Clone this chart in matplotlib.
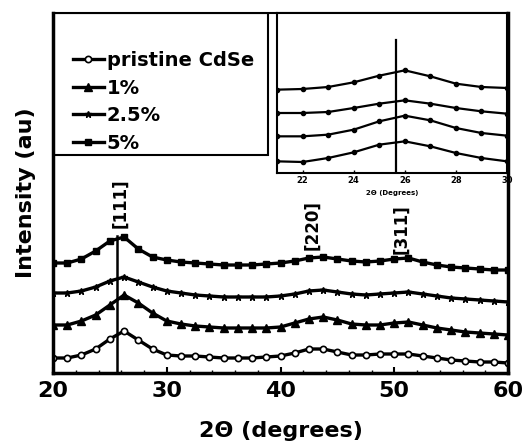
import numpy as np
import matplotlib
matplotlib.use("Agg")
import matplotlib.pyplot as plt
from matplotlib.patches import Rectangle
from matplotlib.lines import Line2D

plt.rcParams['font.family'] = ['DejaVu Sans']
plt.rcParams['font.weight'] = 'bold'

# ---------------- data (main panel) ----------------
two_theta = np.arange(20.0, 60.01, 1.25)
pristine = [15, 15, 18, 24, 34, 42, 33, 24, 18, 17, 17, 16, 15, 15, 15, 16, 17,
            20, 24, 24, 21, 18, 18, 19, 19, 19, 17, 15, 13, 12, 11, 11, 10]
dop_1 = [48, 48, 52, 58, 68, 78, 70, 60, 52, 49, 47, 46, 45, 45, 45, 45, 46,
         50, 54, 56, 53, 49, 48, 48, 50, 51, 48, 45, 43, 41, 40, 39, 38]
dop_25 = [80, 80, 82, 86, 92, 96, 91, 86, 82, 80, 78, 77, 76, 76, 76, 76, 77,
          79, 82, 83, 81, 79, 78, 79, 80, 81, 79, 77, 75, 74, 73, 72, 71]
dop_5 = [110, 110, 114, 122, 132, 136, 124, 116, 113, 111, 110, 109, 108, 108, 108, 109, 110,
         112, 115, 116, 114, 112, 111, 112, 114, 115, 111, 108, 106, 105, 104, 103, 103]

labels = ["pristine CdSe", "1%", "2.5%", "5%"]
peak_labels = ["[111]", "[220]", "[311]"]
peak_pos = [25.9, 42.8, 50.6]
peak_text_y = [170, 148, 144]
ref_line_x = 25.6

# ---------------- data (inset) ----------------
inset_x = [21, 22, 23, 24, 25, 26, 27, 28, 29, 30]
in_pristine = [35, 33, 45, 62, 85, 95, 80, 60, 45, 35]
in_1 = [110, 110, 115, 130, 155, 172, 158, 135, 120, 112]
in_25 = [180, 180, 183, 195, 208, 218, 208, 195, 185, 178]
in_5 = [250, 252, 258, 272, 292, 308, 290, 268, 258, 255]
inset_ticks = [22, 24, 26, 28, 30]

W, H = 523, 446
fig = plt.figure(figsize=(W / 100, H / 100), dpi=100)
ax = fig.add_axes([53 / W, 1 - 373 / H, 455 / W, 360 / H])

series = [pristine, dop_1, dop_25, dop_5]
styles = [
    dict(marker='o', markersize=4.5, markerfacecolor='white', markeredgecolor='black', markeredgewidth=1.2),
    dict(marker='^', markersize=5.5, markerfacecolor='black', markeredgecolor='black'),
    dict(marker='*', markersize=5, markerfacecolor='black', markeredgecolor='black'),
    dict(marker='s', markersize=5, markerfacecolor='black', markeredgecolor='black'),
]
for ys, st in zip(series, styles):
    ax.plot(two_theta, ys, color='black', lw=2.4, clip_on=True, **st)

ax.plot([ref_line_x, ref_line_x], [0, 137], color='black', lw=1.8)

for lab, px, py in zip(peak_labels, peak_pos, peak_text_y):
    ax.text(px, py, lab, rotation=90, ha='center', va='center', fontsize=12, fontweight='bold')

ax.set_xlim(20, 60)
ax.set_ylim(0, 360)
ax.set_xticks([20, 30, 40, 50, 60])
ax.set_xticks(np.arange(20, 61, 2), minor=True)
ax.set_yticks([])
ax.tick_params(axis='x', which='major', direction='in', length=4, width=1.5,
               labelsize=16, pad=6)
ax.tick_params(axis='x', which='minor', direction='in', length=2.5, width=1)
for lbl in ax.get_xticklabels():
    lbl.set_fontweight('bold')
for sp in ax.spines.values():
    sp.set_linewidth(2.5)
ax.spines['top'].set_linewidth(1.5)

ax.set_xlabel("2Θ (degrees)", fontsize=16, fontweight='bold', labelpad=14)
ax.set_ylabel("Intensity (au)", fontsize=16, fontweight='bold', labelpad=12)

# legend box
bx0 = 0.0
by0 = (373 - 155) / 360
bw = (268 - 53) / 455
bh = 1 - by0
ax.add_patch(Rectangle((bx0, by0), bw, bh, transform=ax.transAxes, fill=False,
                       lw=1.5, edgecolor='black', zorder=5))
handles = [Line2D([], [], color='black', lw=2.4, **st) for st in styles]
leg = ax.legend(handles, labels, loc='upper left', bbox_to_anchor=(0.043, 0.895),
                frameon=False, handlelength=1.6, handletextpad=0.15,
                labelspacing=0.45, borderaxespad=0, borderpad=0,
                prop=dict(weight='bold', size=14))

# inset
iax = fig.add_axes([277 / W, 1 - 173 / H, 230 / W, 160 / H])
for ys in [in_pristine, in_1, in_25, in_5]:
    iax.plot(inset_x, ys, color='black', lw=1.6, marker='o', markersize=3)
iax.axvline(25.65, ymin=0, ymax=0.83, color='black', lw=1.6)
iax.set_xlim(21, 30)
iax.set_ylim(0, 480)
iax.set_yticks([])
iax.set_xticks(inset_ticks)
iax.tick_params(axis='x', direction='in', length=2, width=1, labelsize=6, pad=2)
for lbl in iax.get_xticklabels():
    lbl.set_fontweight('bold')
iax.set_xlabel("2Θ (Degrees)", fontsize=5, fontweight='bold', labelpad=4)
for sp in iax.spines.values():
    sp.set_linewidth(1.5)

fig.savefig("out.png", dpi=100)
